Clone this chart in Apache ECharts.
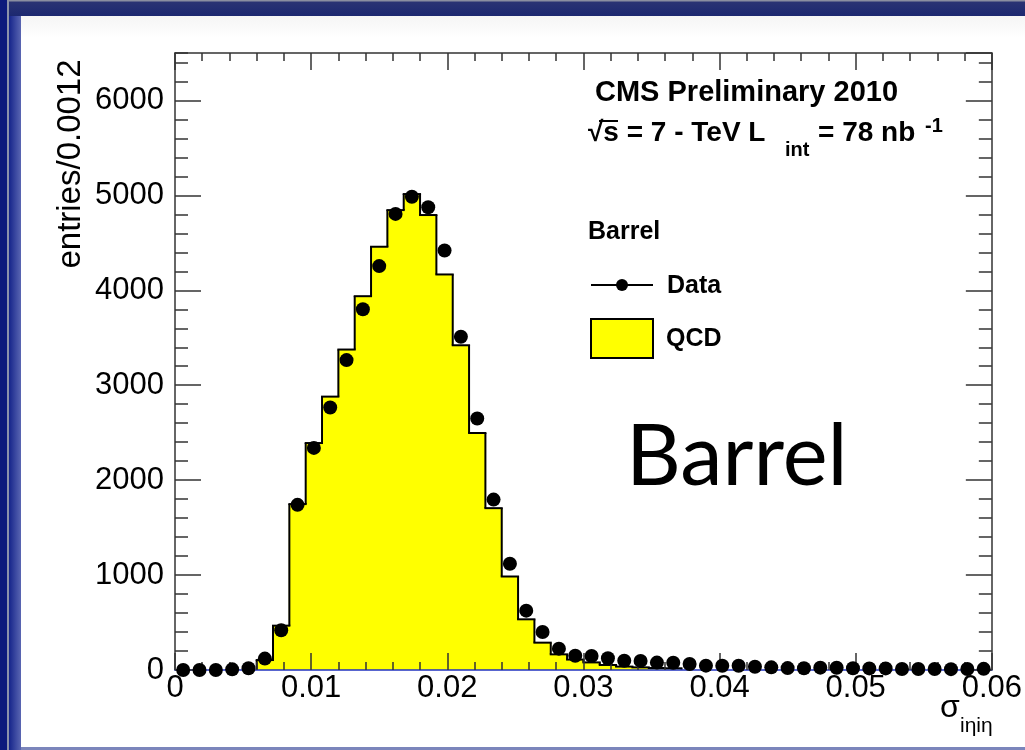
<!DOCTYPE html>
<html>
<head>
<meta charset="utf-8">
<title>sigma ieta ieta - Barrel</title>
<script src="https://cdn.jsdelivr.net/npm/echarts@6/dist/echarts.min.js"></script>
<style>
html, body { margin: 0; padding: 0; }
body { width: 1025px; height: 750px; position: relative; overflow: hidden; background: #0d1a7c; }
#bandT { position: absolute; left: 9px; top: 0; width: 1016px; height: 16px; background: linear-gradient(#8a8ea0 0px, #8a8ea0 1px, #2a3373 2px, #1c2870 16px); }
#edgeL { position: absolute; left: 7px; top: 0; width: 2px; height: 750px; background: #8c92aa; }
#bandL { position: absolute; left: 9px; top: 16px; width: 12px; height: 734px; background: linear-gradient(to right, #15248a, #5a66b2); }
#bandB { position: absolute; left: 21px; top: 747px; width: 1004px; height: 3px; background: #7b85bb; }
#panel { position: absolute; left: 21px; top: 16px; width: 1004px; height: 731px; background: linear-gradient(#f5f5f5, #ffffff 22px); }
#chart { position: absolute; left: 0; top: 0; width: 1025px; height: 750px; }
</style>
</head>
<body>
<div id="bandT"></div>
<div id="edgeL"></div>
<div id="bandL"></div>
<div id="bandB"></div>
<div id="panel"></div>
<div id="chart"></div>
<script>
// histogram binning: 50 bins of 0.0012 between 0 and 0.06
var binWidth = 0.0012;

// data points, one per bin
var dataCounts = [
  0, 0, 0, 7, 18, 120, 418, 1740, 2340, 2765,
  3265, 3800, 4255, 4805, 4985, 4875, 4420, 3510, 2650, 1795,
  1120, 625, 400, 225, 150, 148, 123, 98, 96, 78,
  76, 63, 46, 45, 44, 35, 28, 20, 18, 25,
  24, 18, 17, 17, 11, 10, 10, 9, 10, 12
];

// QCD simulation, one per bin
var qcdCounts = [
  0, 0, 0, 0, 0, 105, 467, 1748, 2391, 2880,
  3376, 3938, 4459, 4845, 5014, 4793, 4167, 3421, 2497, 1705,
  985, 534, 288, 165, 110, 80, 53, 36, 28, 21,
  18, 0, 0, 0, 0, 0, 0, 0, 0, 0,
  0, 0, 0, 0, 0, 0, 0, 0, 0, 0
];

var font = '"Liberation Sans", Arial, Helvetica, sans-serif';

var chart = echarts.init(document.getElementById('chart'), null, { renderer: 'canvas' });

// [low edge, high edge, content, content of previous bin]
var qcdBins = qcdCounts.map(function (v, i) {
  return [i * binWidth, (i + 1) * binWidth, v, i > 0 ? qcdCounts[i - 1] : 0];
});
var dataPoints = dataCounts.map(function (v, i) {
  return [(i + 0.5) * binWidth, v];
});

function qcdFill(params, api) {
  var v = api.value(2);
  if (v <= 0) return null;
  var lo = api.coord([api.value(0), 0]);
  var hi = api.coord([api.value(1), v]);
  return {
    type: 'rect',
    // widen by a pixel so neighbouring bins leave no seam
    shape: { x: lo[0] - 0.5, y: hi[1], width: hi[0] - lo[0] + 1, height: lo[1] - hi[1] },
    style: { fill: '#ffff00' }
  };
}

function qcdOutline(params, api) {
  var x0 = api.value(0), x1 = api.value(1), v = api.value(2), prev = api.value(3);
  var a = api.coord([x0, v]);
  var b = api.coord([x1, v]);
  var p = api.coord([x0, prev]);
  var line = { stroke: '#000', lineWidth: 2 };
  var children = [];
  if (v > 0) {
    children.push({ type: 'line', shape: { x1: a[0] - 1, y1: a[1], x2: b[0] + 1, y2: b[1] }, style: line });
  }
  if (v !== prev) {
    children.push({ type: 'line', shape: { x1: a[0], y1: p[1], x2: a[0], y2: a[1] }, style: line });
  }
  return { type: 'group', children: children };
}

var tickStyle = { color: '#333', width: 1.5 };

var option = {
  animation: false,
  grid: { left: 175, right: 30, top: 53, bottom: 80 },
  xAxis: [
    {
      type: 'value', position: 'bottom', min: 0, max: 0.06, interval: 0.01, z: 2,
      axisLine: { show: true, onZero: false, lineStyle: { color: '#2233c0', width: 1.5 } },
      axisTick: { show: true, inside: true, length: 17, lineStyle: tickStyle },
      minorTick: { show: true, splitNumber: 5, length: 8, lineStyle: tickStyle },
      splitLine: { show: false },
      axisLabel: { margin: 3, fontSize: 31, color: '#000', fontFamily: font }
    },
    {
      type: 'value', position: 'top', min: 0, max: 0.06, interval: 0.01, z: 2,
      axisLine: { show: true, onZero: false, lineStyle: tickStyle },
      axisTick: { show: true, inside: true, length: 17, lineStyle: tickStyle },
      minorTick: { show: true, splitNumber: 5, length: 8, lineStyle: tickStyle },
      splitLine: { show: false },
      axisLabel: { show: false }
    }
  ],
  yAxis: [
    {
      type: 'value', position: 'left', min: 0, max: 6500, interval: 1000, z: 2,
      axisLine: { show: true, onZero: false, lineStyle: tickStyle },
      axisTick: { show: true, inside: true, length: 26, lineStyle: tickStyle },
      splitLine: { show: false },
      axisLabel: {
        margin: 11, fontSize: 31, color: '#000', fontFamily: font, showMaxLabel: false,
        formatter: function (v) { return String(v); }
      }
    },
    {
      type: 'value', position: 'left', min: 0, max: 6500, interval: 200, z: 2,
      axisLine: { show: false, onZero: false },
      axisTick: { show: true, inside: true, length: 13, lineStyle: tickStyle },
      splitLine: { show: false },
      axisLabel: { show: false }
    },
    {
      type: 'value', position: 'right', min: 0, max: 6500, interval: 1000, z: 2,
      axisLine: { show: true, onZero: false, lineStyle: tickStyle },
      axisTick: { show: true, inside: true, length: 26, lineStyle: tickStyle },
      splitLine: { show: false },
      axisLabel: { show: false }
    },
    {
      type: 'value', position: 'right', min: 0, max: 6500, interval: 200, z: 2,
      axisLine: { show: false, onZero: false },
      axisTick: { show: true, inside: true, length: 13, lineStyle: tickStyle },
      splitLine: { show: false },
      axisLabel: { show: false }
    }
  ],
  series: [
    {
      name: 'QCD', type: 'custom', z: 1, xAxisIndex: 0, yAxisIndex: 0,
      renderItem: qcdFill, encode: { x: [0, 1], y: 2 }, data: qcdBins
    },
    {
      name: 'QCD outline', type: 'custom', z: 1.5, xAxisIndex: 0, yAxisIndex: 0,
      renderItem: qcdOutline, encode: { x: [0, 1], y: 2 }, data: qcdBins
    },
    {
      name: 'Data', type: 'scatter', z: 3, xAxisIndex: 0, yAxisIndex: 0,
      symbol: 'circle', symbolSize: 14, itemStyle: { color: '#000', opacity: 1 }, data: dataPoints
    }
  ],
  graphic: [
    // y axis title
    { type: 'text', x: 71, y: 164, rotation: Math.PI / 2,
      style: { text: 'entries/0.0012', font: '33px ' + font, fill: '#000', textAlign: 'center', textVerticalAlign: 'middle' } },
    // x axis title
    { type: 'text', x: 940, y: 708,
      style: { text: 'σ', font: '32px ' + font, fill: '#000', textVerticalAlign: 'middle' } },
    { type: 'text', x: 960, y: 726,
      style: { text: 'iηiη', font: '21px ' + font, fill: '#000', textVerticalAlign: 'middle' } },
    // header
    { type: 'text', x: 595, y: 93,
      style: { text: 'CMS Preliminary 2010', font: 'bold 29px ' + font, fill: '#000', textVerticalAlign: 'middle' } },
    { type: 'text', x: 588, y: 133,
      style: { text: '√s = 7 - TeV L', font: 'bold 28px ' + font, fill: '#000', textVerticalAlign: 'middle' } },
    // bar of the root sign over s
    { type: 'line', shape: { x1: 599, y1: 121, x2: 618, y2: 121 }, style: { stroke: '#000', lineWidth: 2 } },
    { type: 'text', x: 785, y: 150,
      style: { text: 'int', font: 'bold 20px ' + font, fill: '#000', textVerticalAlign: 'middle' } },
    { type: 'text', x: 818, y: 133,
      style: { text: '= 78 nb', font: 'bold 28px ' + font, fill: '#000', textVerticalAlign: 'middle' } },
    { type: 'text', x: 925, y: 126,
      style: { text: '-1', font: 'bold 20px ' + font, fill: '#000', textVerticalAlign: 'middle' } },
    // legend
    { type: 'text', x: 588, y: 232,
      style: { text: 'Barrel', font: 'bold 25px ' + font, fill: '#000', textVerticalAlign: 'middle' } },
    { type: 'line', shape: { x1: 591, y1: 285, x2: 653, y2: 285 }, style: { stroke: '#000', lineWidth: 2 } },
    { type: 'circle', shape: { cx: 622, cy: 285, r: 6 }, style: { fill: '#000' } },
    { type: 'text', x: 667, y: 286,
      style: { text: 'Data', font: 'bold 25px ' + font, fill: '#000', textVerticalAlign: 'middle' } },
    { type: 'rect', shape: { x: 591, y: 319, width: 62, height: 39 }, style: { fill: '#ffff00', stroke: '#000', lineWidth: 2 } },
    { type: 'text', x: 666, y: 339,
      style: { text: 'QCD', font: 'bold 25px ' + font, fill: '#000', textVerticalAlign: 'middle' } },
    // big label
    { type: 'text', x: 626, y: 458,
      style: { text: 'Barrel', font: '85px Lato, "Open Sans", sans-serif', fill: '#000', textVerticalAlign: 'middle' } }
  ]
};

chart.setOption(option);
</script>
</body>
</html>
